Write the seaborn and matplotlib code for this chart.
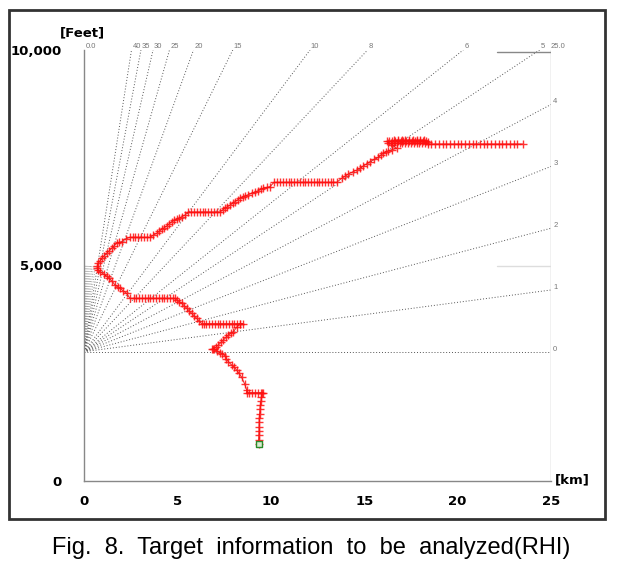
import numpy as np
import pandas as pd
import matplotlib
matplotlib.use("Agg")
import matplotlib.pyplot as plt
import seaborn as sns
from matplotlib.patches import Rectangle

# radar geometry
RADAR_FT = 3000
KM_TO_FT = 3280.84
ELEV_ANGLES = [0, 1, 2, 3, 4, 5, 6, 8, 10, 15, 20, 25, 30, 35, 40]
STEEP_ANGLES = [45, 50, 55, 60, 65, 70, 75, 80, 85]
STEEP_TOP_FT = 5000

X_TICKS = [0, 5, 10, 15, 20, 25]
Y_TICKS = [0, 5000, 10000]
Y_TICK_LABELS = ["0", "5,000", "10,000"]

# target track (range km, altitude ft)
TRACK_KM = [9.35, 9.35, 9.36, 9.37, 9.37, 9.38, 9.38, 9.40, 9.42, 9.44, 9.47, 9.50, 9.55,
            9.60, 9.45, 9.30, 9.15, 9.00, 8.85, 8.70,
            8.71, 8.60, 8.44, 8.30, 8.17, 8.05, 7.90, 7.73, 7.62, 7.55, 7.40, 7.28, 7.10,
            6.95, 6.85, 6.90, 7.05, 7.19, 7.33, 7.46, 7.60, 7.73, 7.87, 8.00, 8.17, 8.35, 8.50,
            8.35, 8.20, 8.05, 7.90, 7.75, 7.60, 7.45, 7.30, 7.15, 7.00, 6.85, 6.70, 6.55, 6.40, 6.30,
            6.15, 6.03, 5.90, 5.76, 5.63, 5.50, 5.37, 5.23, 5.10, 4.96, 4.85,
            4.78, 4.60, 4.45, 4.30, 4.15, 4.00, 3.85, 3.70, 3.55, 3.40, 3.25, 3.10, 2.95, 2.80, 2.65, 2.46,
            2.28, 2.10, 1.93, 1.80, 1.66, 1.48, 1.35, 1.21, 1.05, 0.86, 0.75, 0.71,
            0.72, 0.77, 0.86, 0.95, 1.08, 1.21, 1.35, 1.48, 1.60, 1.75, 1.90, 2.02, 2.25,
            2.46, 2.60, 2.75, 2.90, 3.05, 3.20, 3.35, 3.53,
            3.70, 3.89, 4.03, 4.16, 4.30, 4.43, 4.56, 4.69, 4.83, 4.96, 5.10, 5.23, 5.41,
            5.58, 5.75, 5.90, 6.05, 6.20, 6.35, 6.50, 6.65, 6.80, 6.95, 7.10, 7.28,
            7.42, 7.55, 7.68, 7.82, 7.95, 8.08, 8.22, 8.35, 8.50, 8.62, 8.80, 8.98, 9.15, 9.33,
            9.47, 9.60, 9.78, 9.96,
            10.17, 10.35, 10.50, 10.65, 10.80, 10.95, 11.10, 11.25, 11.40, 11.55, 11.70, 11.85,
            12.00, 12.15, 12.30, 12.45, 12.60, 12.75, 12.90, 13.05, 13.20, 13.35, 13.53,
            13.79, 13.97, 14.15, 14.38, 14.60, 14.78, 14.95, 15.13, 15.31, 15.53, 15.76, 15.90,
            16.02, 16.15, 16.29, 16.50, 16.74,
            16.50, 16.30, 16.20, 16.35, 16.50, 16.65, 16.80, 16.95, 17.10, 17.25, 17.40, 17.55,
            17.70, 17.85, 18.00, 18.15, 18.30, 18.40, 18.25, 18.10, 17.95, 17.80, 17.65, 17.50,
            17.35, 17.20, 17.05, 16.90, 16.75, 16.60, 16.45, 16.60, 16.80, 17.00, 17.20, 17.40,
            17.60, 17.80, 18.00, 18.20, 18.40,
            18.60, 18.80, 19.00, 19.20, 19.40, 19.60, 19.80, 20.00, 20.20, 20.40, 20.60, 20.80,
            21.00, 21.20, 21.40, 21.60, 21.80, 22.00, 22.20, 22.40, 22.60, 22.80, 23.00, 23.20, 23.48]
TRACK_FT = [860, 960, 1060, 1160, 1260, 1360, 1460, 1560, 1660, 1760, 1860, 1960, 2050,
            2050, 2050, 2050, 2050, 2050, 2050, 2050,
            2110, 2250, 2406, 2500, 2575, 2640, 2691, 2768, 2840, 2900, 2950, 2977, 3020,
            3055, 3060, 3060, 3100, 3155, 3215, 3271, 3330, 3387, 3430, 3464, 3566, 3643, 3650,
            3650, 3650, 3650, 3650, 3650, 3650, 3650, 3650, 3650, 3650, 3650, 3650, 3650, 3650, 3650,
            3720, 3775, 3830, 3891, 3950, 4007, 4065, 4123, 4160, 4200, 4238,
            4238, 4238, 4238, 4238, 4238, 4238, 4238, 4238, 4238, 4238, 4238, 4238, 4238, 4238, 4238, 4238,
            4355, 4410, 4471, 4510, 4548, 4647, 4700, 4756, 4800, 4856, 4900, 4935,
            4990, 5051, 5110, 5167, 5225, 5283, 5340, 5399, 5455, 5515, 5540, 5553, 5620,
            5654, 5654, 5654, 5654, 5654, 5654, 5654, 5654,
            5700, 5747, 5795, 5839, 5880, 5916, 5965, 6016, 6045, 6070, 6100, 6132, 6172,
            6241, 6241, 6241, 6241, 6241, 6241, 6241, 6241, 6241, 6241, 6241, 6241,
            6290, 6327, 6365, 6404, 6440, 6481, 6520, 6559, 6590, 6613, 6645, 6675, 6705, 6736,
            6765, 6791, 6810, 6830,
            6930, 6930, 6930, 6930, 6930, 6930, 6930, 6930, 6930, 6930, 6930, 6930,
            6930, 6930, 6930, 6930, 6930, 6930, 6930, 6930, 6930, 6930, 6930,
            7023, 7070, 7123, 7170, 7216, 7260, 7309, 7360, 7409, 7460, 7510, 7560,
            7603, 7635, 7664, 7690, 7719,
            7800, 7850, 7880, 7880, 7880, 7880, 7880, 7880, 7880, 7880, 7880, 7880,
            7880, 7880, 7880, 7880, 7880, 7870, 7840, 7840, 7840, 7840, 7840, 7840,
            7840, 7840, 7840, 7840, 7840, 7840, 7840, 7910, 7910, 7910, 7910, 7910,
            7910, 7910, 7910, 7910, 7819,
            7819, 7819, 7819, 7819, 7819, 7819, 7819, 7819, 7819, 7819, 7819, 7819,
            7819, 7819, 7819, 7819, 7819, 7819, 7819, 7819, 7819, 7819, 7819, 7819, 7819]
START_KM = [9.35]
START_FT = [860]

sns.set_style("white")
plt.rcParams['font.family'] = ['DejaVu Sans']
plt.rcParams['text.color'] = 'black'
plt.rcParams['xtick.labelcolor'] = 'black'
plt.rcParams['ytick.labelcolor'] = 'black'

fig = plt.figure(figsize=(6.23, 5.69), dpi=100)
ax = fig.add_axes([84 / 623, 88 / 569, 467 / 623, 431 / 569])
ax.set_xlim(0, 25)
ax.set_ylim(0, 10000)

# outer frame round the chart
fig.patches.append(Rectangle((9 / 623, 50 / 569), 596 / 623, 509 / 569,
                             transform=fig.transFigure, fill=False,
                             edgecolor='#333333', linewidth=2))

# elevation lines from the radar
for ang in ELEV_ANGLES:
    slope = np.tan(np.radians(ang)) * KM_TO_FT
    x_end = 25 if slope == 0 else min(25, (10000 - RADAR_FT) / slope)
    y_end = RADAR_FT + slope * x_end
    ax.plot([0, x_end], [RADAR_FT, y_end], color='#555555', lw=0.7,
            linestyle=(0, (1, 2)), zorder=1)
    if x_end >= 25:
        ax.text(25.12, y_end + 60, str(ang), fontsize=5.5, color='#777777',
                ha='left', va='center', family='Liberation Sans')
    else:
        ax.text(x_end + 0.05, 10080, str(ang), fontsize=5.5, color='#777777',
                ha='left', va='center', family='Liberation Sans')

for ang in STEEP_ANGLES:
    slope = np.tan(np.radians(ang)) * KM_TO_FT
    x_end = (STEEP_TOP_FT - RADAR_FT) / slope
    ax.plot([0, x_end], [RADAR_FT, STEEP_TOP_FT], color='#888888', lw=0.6,
            linestyle=(0, (1, 2)), zorder=1)

ax.text(0.08, 10080, "0.0", fontsize=5.5, color='#777777', ha='left', va='center',
        family='Liberation Sans')
ax.text(25.0, 10080, "25.0", fontsize=5.5, color='#777777', ha='left', va='center',
        family='Liberation Sans')

# range grid stubs
ax.axvline(25, color='#bbbbbb', lw=1, zorder=1)
ax.plot([22.1, 25], [9950, 9950], color='#888888', lw=1, zorder=1)
ax.plot([22.1, 25], [5000, 5000], color='#dddddd', lw=1, zorder=1)

# the track
track = pd.DataFrame({"km": TRACK_KM, "ft": TRACK_FT})
sns.lineplot(data=track, x="km", y="ft", sort=False, estimator=None, ax=ax,
             color='#e00000', lw=0.7, marker='+', markersize=6,
             markeredgewidth=1.0, markeredgecolor='#ff1010', alpha=0.85, zorder=3)
start = pd.DataFrame({"km": START_KM, "ft": START_FT})
sns.scatterplot(data=start, x="km", y="ft", ax=ax, marker='s', s=14,
                facecolor='#d8ecd0', edgecolor='#2a8a2a', linewidth=1, zorder=4)

# axes styling
for side in ['top', 'right']:
    ax.spines[side].set_visible(False)
for side in ['left', 'bottom']:
    ax.spines[side].set_color('#888888')
    ax.spines[side].set_linewidth(1)

ax.set_xticks(X_TICKS)
ax.set_xticklabels([str(v) for v in X_TICKS], fontsize=9.5, fontweight='bold')
ax.set_yticks(Y_TICKS)
ax.set_yticklabels(Y_TICK_LABELS, fontsize=9.5, fontweight='bold')
ax.tick_params(axis='y', length=14, width=1, color='#888888', pad=2, labelcolor='black')
ax.tick_params(axis='x', length=2, width=0.6, color='#cccccc', pad=8, labelcolor='black')
ax.set_xlabel("")
ax.set_ylabel("")

fig.text(82 / 623, 1 - 33 / 569, "[Feet]", fontsize=9.5, fontweight='bold',
         ha='center', va='center', color='black')
fig.text(572 / 623, 1 - 480 / 569, "[km]", fontsize=9.5, fontweight='bold',
         ha='center', va='center', color='black')

fig.text(0.5, 1 - 548 / 569, "Fig.  8.  Target  information  to  be  analyzed(RHI)",
         fontsize=17, ha='center', va='center', family='Liberation Sans', color='black')

fig.savefig("out.png", dpi=100)
